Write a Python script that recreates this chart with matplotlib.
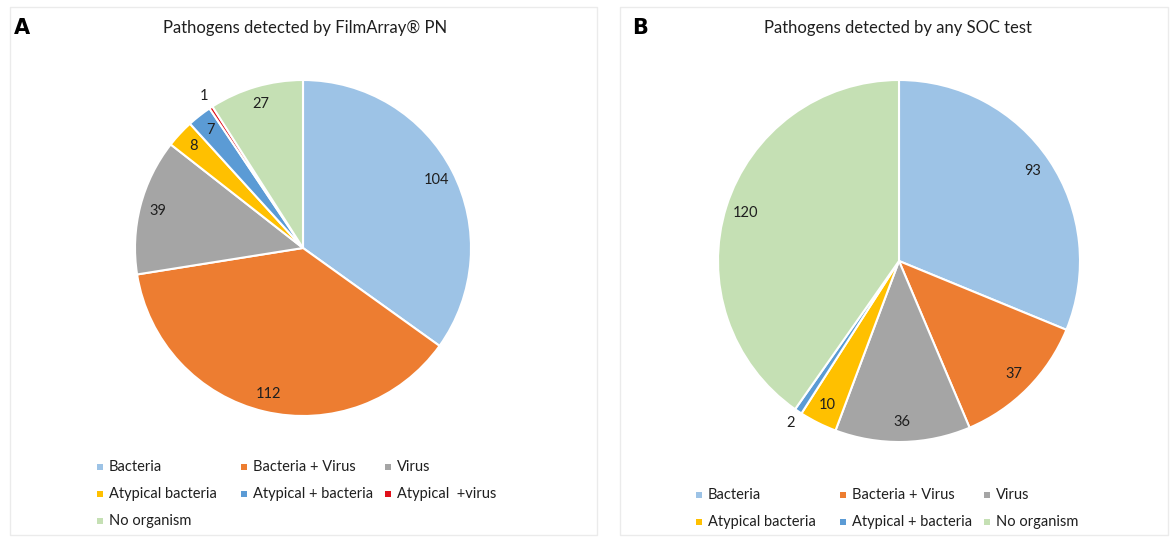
import matplotlib.pyplot as plt
import numpy as np
from matplotlib.patches import Rectangle

plt.rcParams['font.family'] = ['Lato', 'DejaVu Sans']

# Données
labelsA = ["Bacteria", "Bacteria + Virus", "Virus", "Atypical bacteria",
           "Atypical + bacteria", "Atypical  +virus", "No organism"]
valuesA = [104, 112, 39, 8, 7, 1, 27]
colorsA = ["#9DC3E6", "#ED7D31", "#A5A5A5", "#FFC000", "#5B9BD5", "#E0101A", "#C5E0B4"]

labelsB = ["Bacteria", "Bacteria + Virus", "Virus", "Atypical bacteria",
           "Atypical + bacteria", "No organism"]
valuesB = [93, 37, 36, 10, 2, 120]
colorsB = ["#9DC3E6", "#ED7D31", "#A5A5A5", "#FFC000", "#5B9BD5", "#C5E0B4"]

W, H = 1172, 538
fig = plt.figure(figsize=(W / 100, H / 100), dpi=100)
TXT = "#1f1f1f"


def fx(px):
    return px / W


def fy(py):
    return 1 - py / H


# cadres des deux panneaux
for x0, x1 in [(10, 597), (620, 1168)]:
    fig.add_artist(Rectangle((fx(x0), fy(535)), fx(x1 - x0), (535 - 7) / H,
                             transform=fig.transFigure, fill=False,
                             edgecolor="#EBEBEB", linewidth=1))


def draw_pie(cx, cy, r, values, colors, outside):
    ax = fig.add_axes([fx(cx - r), fy(cy + r), fx(2 * r), 2 * r / H])
    wedges, _ = ax.pie(values, colors=colors, startangle=90, counterclock=False,
                       wedgeprops=dict(edgecolor="white", linewidth=1.5))
    ax.set_xlim(-1, 1)
    ax.set_ylim(-1, 1)
    ax.set_aspect("equal")
    ax.axis("off")
    for i, w in enumerate(wedges):
        ang = np.deg2rad((w.theta1 + w.theta2) / 2)
        d = 1.08 if i in outside else 0.89
        ax.text(d * np.cos(ang), d * np.sin(ang), str(values[i]),
                ha="center", va="center", fontsize=10.5, color=TXT)


def draw_legend(labels, colors, x0, y0, dx=144, dy=27):
    for i, lab in enumerate(labels):
        row, col = divmod(i, 3)
        x = x0 + col * dx
        y = y0 + row * dy
        fig.add_artist(Rectangle((fx(x - 3), fy(y + 3)), fx(6), 6 / H,
                                 transform=fig.transFigure,
                                 facecolor=colors[i], edgecolor="none"))
        fig.text(fx(x + 9), fy(y), lab, ha="left", va="center",
                 fontsize=10.5, color=TXT)


# Panneau A
draw_pie(303, 248, 168, valuesA, colorsA, outside=[5])
fig.text(fx(305), fy(28), "Pathogens detected by FilmArray® PN",
         ha="center", va="center", fontsize=12, color=TXT)
fig.text(fx(14), fy(28), "A", ha="left", va="center", fontsize=15,
         fontweight="bold", family="DejaVu Sans")
draw_legend(labelsA, colorsA, 100, 467)

# Panneau B
draw_pie(899, 261, 181, valuesB, colorsB, outside=[4])
fig.text(fx(898), fy(28), "Pathogens detected by any SOC test",
         ha="center", va="center", fontsize=12, color=TXT)
fig.text(fx(632), fy(28), "B", ha="left", va="center", fontsize=15,
         fontweight="bold", family="DejaVu Sans")
draw_legend(labelsB, colorsB, 699, 495)

plt.savefig("out.png", dpi=100)
